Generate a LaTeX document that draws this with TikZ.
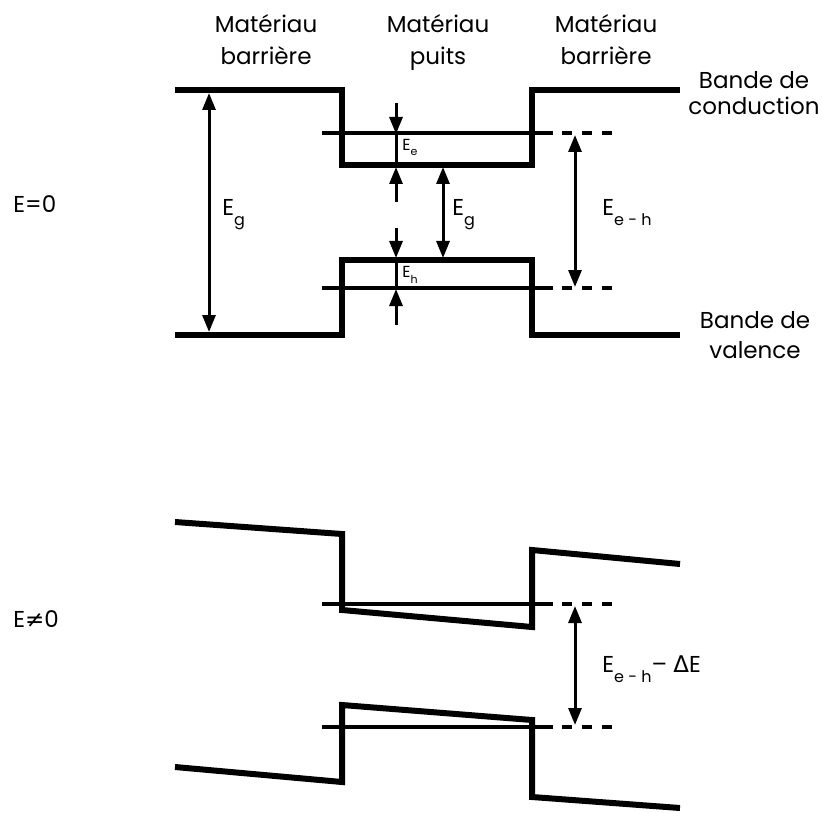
\documentclass[tikz,border=0pt]{standalone}
\usepackage{fontspec}
\setmainfont{Poppins}
\newfontfamily\symfont{DejaVu Sans}
\usetikzlibrary{arrows.meta,positioning,calc}

\newcommand{\bsub}[1]{\raisebox{-5pt}{\fontsize{8}{9}\selectfont #1}}
\newcommand{\ssub}[1]{\raisebox{-2.5pt}{\fontsize{5.5}{6}\selectfont #1}}

\tikzset{
  band/.style={line width=3pt},
  level/.style={line width=2pt},
  levdash/.style={line width=2pt,dash pattern=on 5pt off 5pt},
  gap/.style={line width=1.5pt,{Triangle[length=8.5pt,width=6.5pt]}-{Triangle[length=8.5pt,width=6.5pt]}},
  tick/.style={line width=1.5pt,-{Triangle[length=8.5pt,width=6.5pt]}},
  lbl/.style={inner sep=0pt,align=center,font=\fontsize{11.5}{16}\selectfont},
  elbl/.style={inner sep=0pt,anchor=base west,font=\fontsize{11.5}{14}\selectfont},
  slbl/.style={inner sep=0pt,anchor=base west,font=\fontsize{8}{10}\selectfont},
}

\begin{document}
\begin{tikzpicture}[x=0.5pt,y=-0.5pt]
  \useasboundingbox (0,0) rectangle (822,812);

  % column and band labels
  \node[lbl,anchor=north] (barL) at (266,14) {Matériau\\barrière};
  \node[lbl,anchor=north] (well) at (438,14) {Matériau\\puits};
  \node[lbl,anchor=north] (barR) at (606,14) {Matériau\\barrière};
  \node[lbl,font=\fontsize{11.5}{13}\selectfont] (cond) at (754,93) {Bande de\\conduction};
  \node[lbl,font=\fontsize{11.5}{15}\selectfont] (vale) at (755,335) {Bande de\\valence};
  \node[elbl] (fzero) at (13,213) {E=0};
  \node[elbl] (fnon) at (13,627) {E{\symfont ≠}0};

  % E = 0
  \draw[band] (175,90) -- (342,90) -- (342,165) -- (532,165) -- (532,90) -- (680,90);
  \draw[band] (175,335) -- (342,335) -- (342,260) -- (532,260) -- (532,335) -- (680,335);
  \draw[level] (322,133) -- (553,133);
  \draw[level] (322,288) -- (553,288);
  \draw[levdash] (562,133) -- (612,133);
  \draw[levdash] (562,288) -- (612,288);

  \coordinate (gTop) at (209,93);
  \coordinate (gBot) at (209,332);
  \coordinate (eTop) at (396,103);
  \coordinate (eLev) at (396,134);
  \coordinate (eWell) at (396,167);
  \coordinate (eBot) at (396,202);
  \coordinate (hTop) at (396,228);
  \coordinate (hWell) at (396,258);
  \coordinate (hLev) at (396,289);
  \coordinate (hBot) at (396,325);
  \coordinate (wTop) at (443,167);
  \coordinate (wBot) at (443,258);
  \coordinate (xTop) at (575,135);
  \coordinate (xBot) at (575,287);

  \draw[gap] (gTop) -- (gBot);
  \draw[tick] (eTop) -- (eLev);
  \draw[line width=1.5pt] (eLev) -- (eWell);
  \draw[tick] (eBot) -- (eWell);
  \draw[tick] (hTop) -- (hWell);
  \draw[line width=1.5pt] (hWell) -- (hLev);
  \draw[tick] (hBot) -- (hLev);
  \draw[gap] (wTop) -- (wBot);
  \draw[gap] (xTop) -- (xBot);

  \node[elbl] (egB) at (222,216) {E\bsub{g}};
  \node[elbl] (egW) at (452,216) {E\bsub{g}};
  \node[elbl] (eeh) at (602,216) {E\bsub{e - h}};
  \node[slbl] (ee) at (402,151) {E\ssub{e}};
  \node[slbl] (eh) at (402,278) {E\ssub{h}};

  % E non nul
  \draw[band] (175,522) -- (342,534) -- (342,610) -- (532,627) -- (532,550) -- (680,564);
  \draw[band] (175,767) -- (342,782) -- (342,705) -- (532,720) -- (532,797) -- (680,808);
  \draw[level] (322,604) -- (553,604);
  \draw[level] (322,727) -- (553,727);
  \draw[levdash] (562,604) -- (612,604);
  \draw[levdash] (562,727) -- (612,727);

  \coordinate (fTop) at (575,606);
  \coordinate (fBot) at (575,725);
  \draw[gap] (fTop) -- (fBot);
  \node[elbl] (ehd) at (602,672) {E\bsub{e - h}– {\symfont Δ}E};
\end{tikzpicture}
\end{document}
